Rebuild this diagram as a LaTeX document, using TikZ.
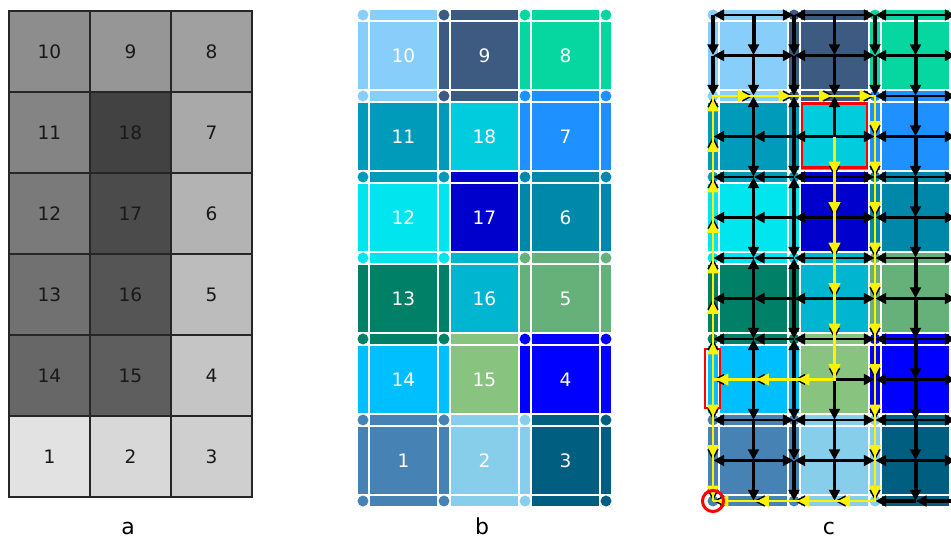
\documentclass[tikz,border=0pt]{standalone}
\usepackage{fontspec}
\setmainfont{DejaVu Sans}
\usetikzlibrary{arrows.meta}

% cell colours, indexed by cell value
\definecolor{c1}{HTML}{4682B4}
\definecolor{c2}{HTML}{87CEEB}
\definecolor{c3}{HTML}{005F80}
\definecolor{c4}{HTML}{0000FF}
\definecolor{c5}{HTML}{66B07A}
\definecolor{c6}{HTML}{0088AA}
\definecolor{c7}{HTML}{1E90FF}
\definecolor{c8}{HTML}{06D6A0}
\definecolor{c9}{HTML}{3D5A80}
\definecolor{c10}{HTML}{87CEFA}
\definecolor{c11}{HTML}{009ABB}
\definecolor{c12}{HTML}{00E5EE}
\definecolor{c13}{HTML}{008066}
\definecolor{c14}{HTML}{00BFFF}
\definecolor{c15}{HTML}{88C480}
\definecolor{c16}{HTML}{00B5D0}
\definecolor{c17}{HTML}{0000CD}
\definecolor{c18}{HTML}{00CCDD}

% squares, edge bands and corner dots of a 3x6 grid whose left edge is at x=#1
\newcommand\gridbg[1]{%
  \foreach \vals [count=\i from 0] in {{10,9,8},{11,18,7},{12,17,6},{13,16,5},{14,15,4},{1,2,3}} {
    \foreach \v [count=\j from 0] in \vals {
      \filldraw[fill=c\v, sep] ({#1+81*\j+12},{9+81*\i+12}) rectangle ++(69,69);
    }
  }
  \foreach \vals [count=\i from 0] in {{10,9,8},{10,9,7},{11,17,6},{12,16,5},{13,15,4},{1,2,3},{1,2,3}} {
    \foreach \v [count=\j from 0] in \vals {
      \filldraw[fill=c\v, sep] ({#1+81*\j+12},{9+81*\i}) rectangle ++(69,12);
    }
  }
  \foreach \vals [count=\i from 0] in {{10,9,8,8},{11,11,7,7},{12,12,6,6},{13,13,5,5},{14,14,4,4},{1,1,2,3}} {
    \foreach \v [count=\j from 0] in \vals {
      \filldraw[fill=c\v, sep] ({#1+81*\j},{9+81*\i+12}) rectangle ++(12,69);
    }
  }
  \foreach \vals [count=\i from 0] in {{10,9,8,8},{10,9,7,7},{11,11,6,6},{12,12,5,5},{13,13,4,4},{1,1,2,3},{1,1,2,3}} {
    \foreach \v [count=\j from 0] in \vals {
      \fill[c\v] ({#1+81*\j+6},{9+81*\i+6}) circle[radius=4.1pt];
    }
  }
}

\begin{document}
\begin{tikzpicture}[x=0.75pt,y=-0.75pt,
  sep/.style={draw=white, line width=0.9pt},
  acell/.style={draw=black!85, line width=0.9pt, inner sep=0pt, minimum size=60.75pt,
    text=black!90, font=\fontsize{13.9pt}{16pt}\selectfont},
  bnum/.style={text=white, inner sep=0pt, font=\fontsize{13.9pt}{16pt}\selectfont},
  lab/.style={anchor=base, inner sep=0pt, font=\fontsize{16.5pt}{19pt}\selectfont},
  bk/.style={draw=black, line width=1.95pt, -{Triangle[length=8pt,width=8pt]}, shorten >=0.3pt},
  bkt/.style={bk, line width=3pt},
  yw/.style={draw=yellow, line width=2.2pt, -{Triangle[length=9pt,width=8.5pt]}, shorten >=2.5pt},
  ywline/.style={draw=yellow, line width=2.2pt, line join=miter},
  hl/.style={draw=red, line width=2pt}]
\useasboundingbox (0,0) rectangle (951,540);
\fill[white] (0,0) rectangle (951,540);

% ---------- panel a: grey-shaded values ----------
\foreach \vals [count=\i from 0] in {{10,9,8},{11,18,7},{12,17,6},{13,16,5},{14,15,4},{1,2,3}} {
  \foreach \v [count=\j from 0] in \vals {
    \pgfmathtruncatemacro\g{226-9.4*(\v-1)}
    \node[acell, fill={rgb,255:red,\g;green,\g;blue,\g}] (a\v) at ({49.5+81*\j},{51.5+81*\i}) {\v};
  }
}
\node[lab] (la) at (128,534) {a};

% ---------- panel b: coloured cells with edge bands ----------
\gridbg{357}
\foreach \vals [count=\i from 0] in {{10,9,8},{11,18,7},{12,17,6},{13,16,5},{14,15,4},{1,2,3}} {
  \foreach \v [count=\j from 0] in \vals {
    \node[bnum] (b\v) at ({357+81*\j+46.5},{9+81*\i+46.5}) {\v};
  }
}
\node[lab] (lb) at (482,534) {b};

% ---------- panel c: flow network ----------
\begin{scope}
\clip (700,0) rectangle (951,540);
\gridbg{707}
\foreach \c in {0,...,6} {
  \foreach \r in {0,...,12} {
    \coordinate (p\c-\r) at ({713+40.5*\c},{15+40.5*\r});
  }
}
% highlighted cell and band
\draw[hl] (802,103.5) rectangle (867,167.5);
\draw[hl] (705,349) rectangle (720,408);

% horizontal flow links
\foreach \r in {0,1} {
  \foreach \s/\t in {1/0,1/2,3/2,3/4,5/4,5/6} \draw[bk] (p\s-\r) -- (p\t-\r);
}
\foreach \s/\t in {0/1,1/2,2/3,3/4,5/4,5/6} \draw[bk] (p\s-2) -- (p\t-2);
\foreach \r in {3,...,9} {
  \foreach \s/\t in {1/0,2/1,3/2,3/4,5/4,5/6} \draw[bk] (p\s-\r) -- (p\t-\r);
}
\foreach \r in {10,11} {
  \foreach \s/\t in {1/0,1/2,3/2,3/4,5/4,5/6} \draw[bk] (p\s-\r) -- (p\t-\r);
}
\foreach \s/\t in {1/0,2/1,3/2,4/3} \draw[bk] (p\s-12) -- (p\t-12);
\foreach \s/\t in {5/4,6/5} \draw[bkt] (p\s-12) -- (p\t-12);

% vertical flow links
\foreach \s/\t in {0/1,1/2} \draw[bkt] (p0-\s) -- (p0-\t);
\foreach \s/\t in {3/2,4/3,5/4,6/5,7/6,8/7,9/8,9/10,10/11,11/12} \draw[bk] (p0-\s) -- (p0-\t);
\draw[bkt] (p1-0) -- (p1-1);
\foreach \s/\t in {1/2,3/2,3/4,5/4,5/6,7/6,7/8,9/8,9/10,10/11,11/12} \draw[bk] (p1-\s) -- (p1-\t);
\foreach \s/\t in {0/1,1/2,3/2,3/4,5/4,5/6,7/6,7/8,9/8,9/10,10/11,11/12} \draw[bkt] (p2-\s) -- (p2-\t);
\foreach \s/\t in {0/1,1/2,3/2,3/4,4/5,5/6,6/7,7/8,8/9,9/10,10/11,11/12} \draw[bk] (p3-\s) -- (p3-\t);
\foreach \s/\t in {0/1,1/2} \draw[bkt] (p4-\s) -- (p4-\t);
\foreach \s/\t in {2/3,3/4,4/5,5/6,6/7,7/8,8/9,9/10,10/11,11/12} \draw[bk] (p4-\s) -- (p4-\t);
\foreach \s/\t in {0/1,1/2,2/3,3/4,4/5,5/6,6/7,7/8,8/9,9/10,10/11,11/12} \draw[bkt] (p5-\s) -- (p5-\t);

% traced drainage path
\draw[ywline] (p3-3) -- (p3-9) -- (p0-9) -- (p0-2) -- (p4-2) -- (p4-12) -- (p0-12);
\draw[ywline] (p0-9) -- (p0-12);
\foreach \s/\t in {3/4,4/5,5/6,6/7,7/8,8/9} \draw[yw] (p3-\s) -- (p3-\t);
\foreach \s/\t in {3/2,2/1,1/0} \draw[yw] (p\s-9) -- (p\t-9);
\foreach \s/\t in {9/8,8/7,7/6,6/5,5/4,4/3,3/2,9/10,10/11,11/12} \draw[yw] (p0-\s) -- (p0-\t);
\foreach \s/\t in {0/1,1/2,2/3,3/4} \draw[yw] (p\s-2) -- (p\t-2);
\foreach \s/\t in {2/3,3/4,4/5,5/6,6/7,7/8,8/9,9/10,10/11,11/12} \draw[yw] (p4-\s) -- (p4-\t);
\foreach \s/\t in {4/3,3/2,2/1,1/0} \draw[yw] (p\s-12) -- (p\t-12);

% outlet
\draw[red, line width=2.25pt] (p0-12) circle[radius=7.9pt];
\end{scope}
\node[lab] (lc) at (829,534) {c};
\end{tikzpicture}
\end{document}
